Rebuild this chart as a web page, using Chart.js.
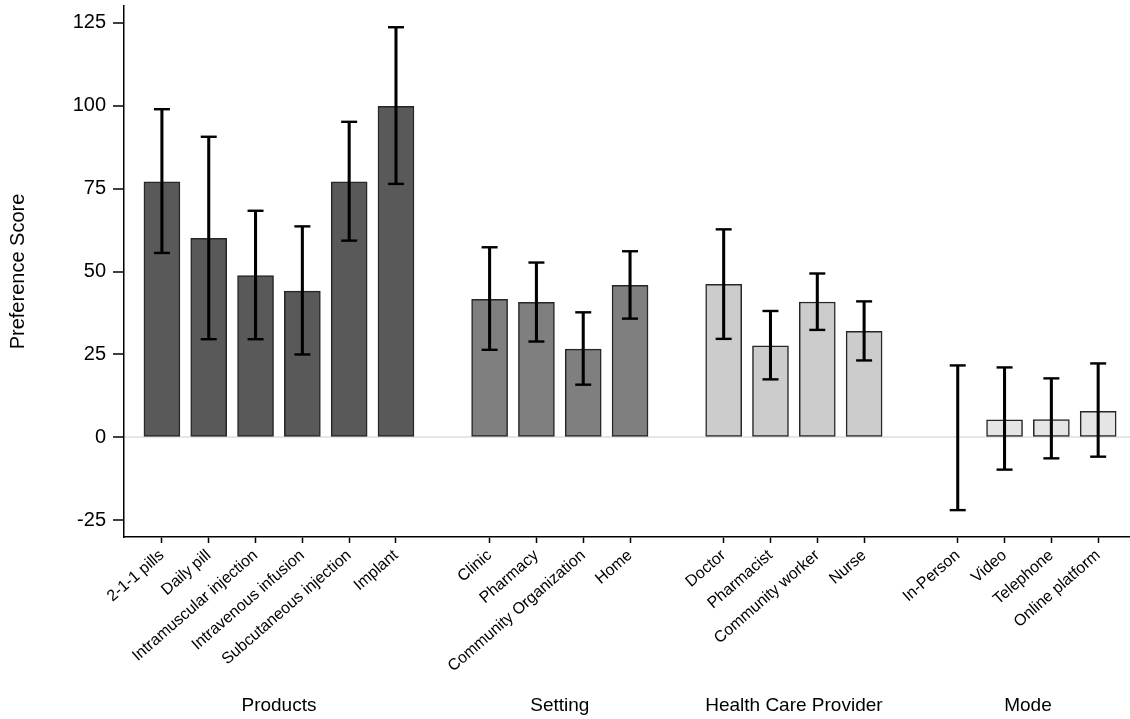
<!DOCTYPE html>
<html>
<head>
<meta charset="utf-8">
<script src="https://cdn.jsdelivr.net/npm/chart.js@4.4.1/dist/chart.umd.min.js"></script>
<style>
html,body{margin:0;padding:0;background:#fff;}
#wrap{width:1130px;height:719px;position:relative;}
</style>
</head>
<body>
<div id="wrap"><canvas id="c"></canvas></div>
<script>
// ---- data ----
const groupNames = ['Products', 'Setting', 'Health Care Provider', 'Mode'];

const productsLabels = ['2-1-1 pills', 'Daily pill', 'Intramuscular injection', 'Intravenous infusion', 'Subcutaneous injection', 'Implant'];
const productsScore  = [77.0, 60.0, 48.8, 44.1, 77.0, 99.8];
const productsLow    = [55.6, 29.6, 29.6, 25.0, 59.3, 76.4];
const productsHigh   = [98.9, 90.6, 68.3, 63.6, 95.1, 123.6];

const settingLabels = ['Clinic', 'Pharmacy', 'Community Organization', 'Home'];
const settingScore  = [41.6, 40.7, 26.6, 45.8];
const settingLow    = [26.4, 28.9, 15.9, 35.8];
const settingHigh   = [57.3, 52.7, 37.7, 56.1];

const providerLabels = ['Doctor', 'Pharmacist', 'Community worker', 'Nurse'];
const providerScore  = [46.1, 27.6, 40.8, 32.0];
const providerLow    = [29.7, 17.5, 32.4, 23.2];
const providerHigh   = [62.7, 38.1, 49.4, 41.0];

const modeLabels = ['In-Person', 'Video', 'Telephone', 'Online platform'];
const modeScore  = [0, 5.3, 5.4, 7.9];
const modeLow    = [-21.9, -9.7, -6.3, -5.8];
const modeHigh   = [21.7, 21.1, 17.8, 22.3];

const yTickValues = [-25, 0, 25, 50, 75, 100, 125];

// ---- build structure ----
const groups = [
  {labels: productsLabels, score: productsScore, low: productsLow, high: productsHigh, color: '#595959'},
  {labels: settingLabels,  score: settingScore,  low: settingLow,  high: settingHigh,  color: '#7f7f7f'},
  {labels: providerLabels, score: providerScore, low: providerLow, high: providerHigh, color: '#cccccc'},
  {labels: modeLabels,     score: modeScore,     low: modeLow,     high: modeHigh,     color: '#e5e5e5'}
];

const slotLabels = {};     // slot index -> label
const groupCenters = [];
const barDatasets = [];
const whisker = [];
const caps = [];
let slot = 0;
groups.forEach((g) => {
  const start = slot;
  const pts = [];
  g.labels.forEach((lab, i) => {
    slotLabels[slot] = lab;
    pts.push({x: slot, y: g.score[i]});
    whisker.push({x: slot, y: [g.low[i], g.high[i]]});
    caps.push({x: slot, y: g.low[i]});
    caps.push({x: slot, y: g.high[i]});
    slot++;
  });
  groupCenters.push((start + slot - 1) / 2);
  barDatasets.push({
    type: 'bar', data: pts, backgroundColor: g.color, borderColor: '#262626',
    borderWidth: 1.5, borderSkipped: false, barThickness: 36, grouped: false, order: 3
  });
  slot++; // gap slot between groups
});

const tickSlots = Object.keys(slotLabels).map(Number);
const XMIN = -0.81, XMAX = 20.68;
const FONT = "'Liberation Sans', Arial, Helvetica, sans-serif";

new Chart(document.getElementById('c'), {
  type: 'bar',
  data: {
    datasets: [
      {type: 'scatter', data: caps, pointStyle: 'line', pointRadius: 8, pointHoverRadius: 8,
       borderColor: '#000', borderWidth: 2.4, backgroundColor: '#000', order: 1},
      {type: 'bar', data: whisker, backgroundColor: '#000', borderWidth: 0,
       barThickness: 2.4, grouped: false, order: 2},
      ...barDatasets
    ]
  },
  options: {
    responsive: true,
    maintainAspectRatio: false,
    animation: false,
    layout: {autoPadding: false, padding: {left: 0, right: 0, top: 6, bottom: 0}},
    plugins: {legend: {display: false}, tooltip: {enabled: false}},
    scales: {
      x: {
        type: 'linear', position: 'bottom', min: XMIN, max: XMAX, offset: false,
        afterBuildTicks: s => { s.ticks = tickSlots.map(v => ({value: v})); },
        afterFit: s => { s.height = 140; s.paddingLeft = 0; s.paddingRight = 0; },
        ticks: {
          autoSkip: false, minRotation: 41, maxRotation: 41, padding: 3,
          color: '#000', font: {family: FONT, size: 16},
          callback: v => slotLabels[v] || ''
        },
        grid: {offset: false, drawOnChartArea: false, drawTicks: true, tickLength: 6,
               color: 'rgba(0,0,0,0)', tickColor: '#000', tickWidth: 1.5},
        border: {display: true, color: '#000', width: 1.5}
      },
      x2: {
        type: 'linear', position: 'bottom', min: XMIN, max: XMAX, offset: false,
        afterBuildTicks: s => { s.ticks = groupCenters.map(v => ({value: v})); },
        afterFit: s => { s.height = 42; s.paddingLeft = 0; s.paddingRight = 0; },
        ticks: {
          autoSkip: false, minRotation: 0, maxRotation: 0, padding: 17,
          color: '#000', font: {family: FONT, size: 19},
          callback: (v, i) => groupNames[i]
        },
        grid: {offset: false, display: false, drawTicks: false},
        border: {display: false}
      },
      y: {
        type: 'linear', min: -30, max: 130,
        afterBuildTicks: s => { s.ticks = yTickValues.map(v => ({value: v})); },
        afterFit: s => { s.width = 124; s.paddingTop = 0; s.paddingBottom = 0; },
        ticks: {color: '#000', padding: 7, font: {family: FONT, size: 20}},
        grid: {
          drawTicks: true, tickLength: 11,
          color: c => (c.tick && c.tick.value === 0) ? '#e6e6e6' : 'rgba(0,0,0,0)',
          lineWidth: 2, tickColor: '#000', tickWidth: 1.5
        },
        border: {display: true, color: '#000', width: 1.5},
        title: {display: true, text: 'Preference Score', color: '#000',
                font: {family: FONT, size: 20}, padding: {top: 6, bottom: 0}}
      }
    }
  }
});
</script>
</body>
</html>
